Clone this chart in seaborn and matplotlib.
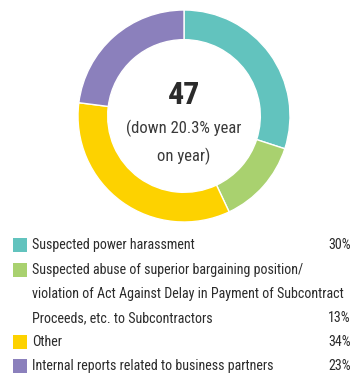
import matplotlib
matplotlib.use("Agg")
import matplotlib.pyplot as plt
from matplotlib.patches import Rectangle
import seaborn as sns

categories = [
    "Suspected power harassment",
    "Suspected abuse of superior bargaining position/\nviolation of Act Against Delay in Payment of Subcontract\nProceeds, etc. to Subcontractors",
    "Other",
    "Internal reports related to business partners",
]
shares = [30, 13, 34, 23]
share_labels = ["30%", "13%", "34%", "23%"]
total_label = "47"
sub_label = "(down 20.3% year\non year)"
colors = ["#62C3BE", "#A9D16F", "#FDD200", "#8B80BC"]

sns.set_theme(style="white")
plt.rcParams["font.family"] = ["Roboto Condensed", "Archivo Narrow", "DejaVu Sans"]
text_color = "#2b2b2b"

fig = plt.figure(figsize=(3.52, 3.74), dpi=100)
fig.patch.set_facecolor("white")

# donut
ax = fig.add_axes([78 / 352, (374 - 222) / 374, 212 / 352, 212 / 374])
ax.pie(shares, colors=sns.color_palette(colors), startangle=90, counterclock=False,
       radius=1.0, wedgeprops=dict(width=0.28, edgecolor="white", linewidth=1.0))
ax.set_xlim(-1, 1)
ax.set_ylim(-1, 1)
ax.set_aspect("equal")
ax.axis("off")
ax.text(0, 0.2, total_label, ha="center", va="center", fontsize=23, fontweight="bold",
        color=text_color)
ax.text(0, -0.25, sub_label, ha="center", va="center", fontsize=12, color="#3a3a3a",
        linespacing=1.75)

# legend rows
lax = fig.add_axes([0, 0, 1, 1])
lax.set_xlim(0, 352)
lax.set_ylim(374, 0)
lax.axis("off")
row_y = [245, 270, 342, 366]
line_gap = 24
for y, cat, lab, c in zip(row_y, categories, share_labels, colors):
    lax.add_patch(Rectangle((13, y - 7), 14, 14, facecolor=c, edgecolor="none"))
    lines = cat.split("\n")
    for i, ln in enumerate(lines):
        lax.text(32, y + i * line_gap, ln, ha="left", va="center", fontsize=10.1,
                 color=text_color)
    lax.text(351, y + (len(lines) - 1) * line_gap, lab, ha="right", va="center",
             fontsize=10.1, color=text_color)

fig.savefig("out.png", dpi=100, facecolor="white")
